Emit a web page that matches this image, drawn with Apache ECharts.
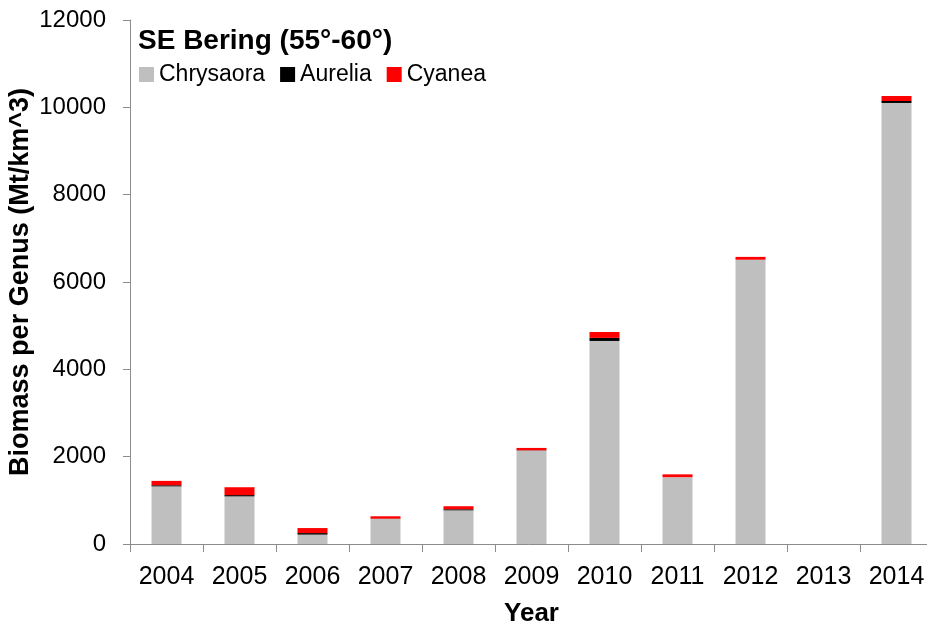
<!DOCTYPE html>
<html>
<head>
<meta charset="utf-8">
<script src="https://cdn.jsdelivr.net/npm/echarts@6/dist/echarts.min.js"></script>
<style>
  html, body { margin: 0; padding: 0; background: #fff; }
  #chart { width: 927px; height: 625px; }
</style>
</head>
<body>
<div id="chart"></div>
<script>
// Jellyfish biomass by genus, SE Bering shelf (55°-60° N)
const years = ['2004', '2005', '2006', '2007', '2008', '2009', '2010', '2011', '2012', '2013', '2014'];
const chrysaora = [1320, 1090, 215, 575, 770, 2140, 4650, 1530, 6510, 0, 10100];
const aurelia   = [25, 30, 35, 5, 25, 5, 70, 0, 0, 0, 45];
const cyanea    = [100, 180, 115, 55, 70, 55, 135, 65, 65, 0, 115];
const yTicks = [0, 2000, 4000, 6000, 8000, 10000, 12000];

const FONT = '"Liberation Sans", Arial, sans-serif';
const chart = echarts.init(document.getElementById('chart'), null, { renderer: 'canvas' });

function stackSeries(name, data, color) {
  return {
    name: name,
    type: 'bar',
    stack: 'total',
    data: data,
    barWidth: 30,
    itemStyle: { color: color },
    emphasis: { disabled: true }
  };
}

chart.setOption({
  animation: false,
  backgroundColor: '#ffffff',
  title: {
    text: 'SE Bering (55°-60°)',
    left: 133,
    top: 22,
    textStyle: { fontFamily: FONT, fontSize: 28, fontWeight: 'bold', color: '#000' }
  },
  legend: {
    left: 134,
    top: 58,
    itemWidth: 15,
    itemHeight: 15,
    itemGap: 15,
    icon: 'rect',
    textStyle: { fontFamily: FONT, fontSize: 23, color: '#000' },
    data: ['Chrysaora', 'Aurelia', 'Cyanea']
  },
  grid: { left: 130, right: -6, top: 20, bottom: 81, containLabel: false, outerBoundsMode: 'none' },
  xAxis: {
    type: 'category',
    data: years,
    name: 'Year',
    nameLocation: 'middle',
    nameGap: 57,
    nameMoveOverlap: false,
    nameTextStyle: { fontFamily: FONT, fontSize: 26, fontWeight: 'bold', color: '#000' },
    axisLine: { lineStyle: { color: '#8c8c8c', width: 1 } },
    axisTick: { show: true, length: 8, alignWithLabel: false, interval: 0, lineStyle: { color: '#8c8c8c' } },
    axisLabel: { fontFamily: FONT, fontSize: 25, color: '#000', margin: 21, interval: 0 }
  },
  yAxis: {
    type: 'value',
    min: yTicks[0],
    max: yTicks[yTicks.length - 1],
    interval: 2000,
    name: 'Biomass per Genus (Mt/km^3)',
    nameLocation: 'middle',
    nameRotate: 90,
    nameGap: 96,
    nameMoveOverlap: false,
    nameTextStyle: { fontFamily: FONT, fontSize: 27, fontWeight: 'bold', color: '#000' },
    axisLine: { show: true, lineStyle: { color: '#8c8c8c', width: 1 } },
    axisTick: { show: true, length: 7, inside: false, lineStyle: { color: '#8c8c8c' } },
    splitLine: { show: false },
    axisLabel: {
      fontFamily: FONT, fontSize: 24, color: '#000', margin: 24,
      formatter: function (v) { return String(v); }
    }
  },
  series: [
    stackSeries('Chrysaora', chrysaora, '#bfbfbf'),
    stackSeries('Aurelia', aurelia, '#000000'),
    stackSeries('Cyanea', cyanea, '#ff0000')
  ]
});
</script>
</body>
</html>
